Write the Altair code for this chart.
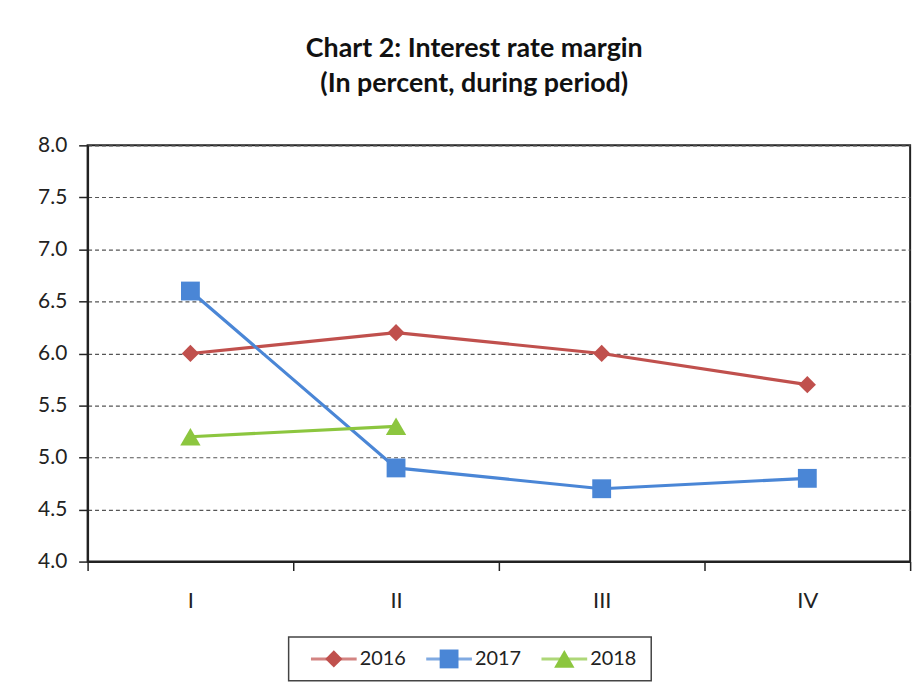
import altair as alt
import pandas as pd

quarters = ["I", "II", "III", "IV"]
years = ["2016", "2017", "2018"]
v2016 = [6.0, 6.2, 6.0, 5.7]
v2017 = [6.6, 4.9, 4.7, 4.8]
v2018 = [5.2, 5.3]
colors = ["#C0504D", "#4A86D6", "#8CC63F"]
shapes = ["diamond", "square", "triangle-up"]
sizes = [300, 420, 380]
y_ticks = [4.0, 4.5, 5.0, 5.5, 6.0, 6.5, 7.0, 7.5, 8.0]

rows = []
for yr, vals in zip(years, [v2016, v2017, v2018]):
    for q, v in zip(quarters, vals):
        rows.append({"year": yr, "quarter": q, "value": v})
df = pd.DataFrame(rows)

FONT = "Lato"

color_enc = alt.Color("year:N", scale=alt.Scale(domain=years, range=colors), legend=None)
shape_enc = alt.Shape("year:N", scale=alt.Scale(domain=years, range=shapes), legend=None)
size_enc = alt.Size("year:N", scale=alt.Scale(domain=years, range=sizes), legend=None)

x_enc = alt.X(
    "quarter:N", sort=quarters, bandPosition=0.5,
    scale=alt.Scale(type="band", paddingInner=0, paddingOuter=0),
    axis=alt.Axis(title=None, labelAngle=0, tickBand="extent", tickSize=9,
                  tickColor="#222", tickWidth=1.5, domainColor="#222", domainWidth=2,
                  labelPadding=20, labelFont=FONT, labelFontSize=22, labelColor="#222",
                  grid=False),
)
y_enc = alt.Y(
    "value:Q", scale=alt.Scale(domain=[4, 8], nice=False, zero=False),
    axis=alt.Axis(title=None, values=y_ticks, format=".1f", tickSize=9,
                  tickColor="#222", tickWidth=1.5, domainColor="#222", domainWidth=2,
                  labelPadding=12, labelFont=FONT, labelFontSize=21, labelColor="#222",
                  grid=True, gridColor="#555", gridDash=[4, 3], gridWidth=1.2),
)

base = alt.Chart(df).encode(x=x_enc, y=y_enc, color=color_enc)
lines = base.mark_line(strokeWidth=3.2)
points = base.mark_point(filled=True, opacity=1).encode(shape=shape_enc, size=size_enc)

main = alt.layer(lines, points).properties(
    width=828, height=419,
    view=alt.ViewBackground(stroke="#222", strokeWidth=2),
)

# legend drawn by hand so each entry shows line + marker
LEG_W = 365
leg_df = pd.DataFrame({"year": years})
lx = alt.X("year:N", sort=years,
           scale=alt.Scale(type="band", paddingInner=0, paddingOuter=0.073, range=[0, LEG_W]),
           axis=None)
leg_base = alt.Chart(leg_df).encode(x=lx, y=alt.value(22))
leg_box = alt.Chart(pd.DataFrame({"b": [0]})).mark_rect(
    fill="white", stroke="#444", strokeWidth=1.5
).encode(x=alt.value(0), x2=alt.value(LEG_W), y=alt.value(0), y2=alt.value(44))
leg_line = leg_base.mark_tick(orient="horizontal", size=46, thickness=3, xOffset=-21).encode(color=color_enc)
leg_pt = leg_base.mark_point(filled=True, opacity=1, xOffset=-21).encode(
    color=color_enc,
    shape=shape_enc,
    size=alt.Size("year:N", scale=alt.Scale(domain=years, range=[170, 260, 220]), legend=None),
)
leg_txt = leg_base.mark_text(align="left", baseline="middle", dx=5, font=FONT,
                             fontSize=20).encode(text="year:N", color=alt.value("#222"))
legend = alt.layer(leg_box, leg_line, leg_pt, leg_txt).properties(
    width=LEG_W + 60, height=44,
    view=alt.ViewBackground(stroke=None),
)

chart = alt.vconcat(main, legend, center=True, spacing=24).properties(
    title=alt.TitleParams(
        ["Chart 2: Interest rate margin", "(In percent, during period)"],
        font=FONT, fontSize=27, fontWeight="bold", color="#111",
        anchor="middle", lineHeight=35, offset=36,
    ),
    padding={"left": 28, "top": 25, "right": 0, "bottom": 5},
).configure(background="white")

chart.save("out.html", embed_options={"renderer": "svg", "actions": False})
